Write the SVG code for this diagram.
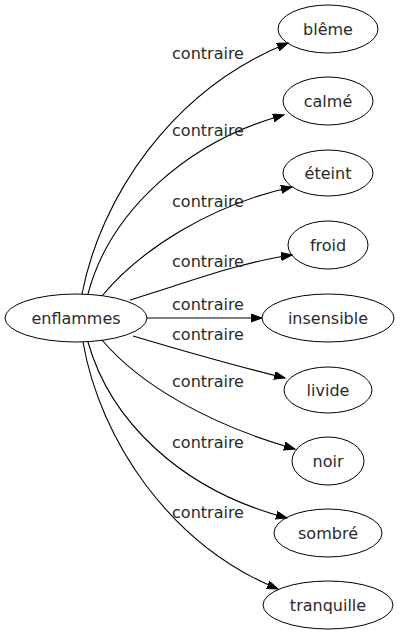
<svg xmlns="http://www.w3.org/2000/svg" width="400" height="635" viewBox="0 0 400 635">
<style>
.n ellipse{fill:none;stroke:#000;stroke-width:1}
text{font-family:"DejaVu Sans",sans-serif;font-size:16px;fill:#2a2a2a;text-anchor:middle}
.e path{fill:none;stroke:#000;stroke-width:1.1;marker-end:url(#a)}
</style>
<defs>
<marker id="a" markerUnits="userSpaceOnUse" markerWidth="14" markerHeight="10" refX="11" refY="4" orient="auto">
<path d="M0,0 L11,4 L0,8 z" fill="#000" stroke="#000"/>
</marker>
</defs>
<rect width="400" height="635" fill="#fff"/>
<g id="edges" class="e">
<path d="M82,294 C100,200 170,90 288,43"/>
<path d="M88,294 C110,210 190,140 284,115"/>
<path d="M102,296 C140,250 210,205 292,187"/>
<path d="M130,300 C180,285 240,262 292,255"/>
<path d="M147,318 L262,318"/>
<path d="M133,336 C180,350 240,367 285,378"/>
<path d="M102,340 C140,385 210,425 295,449"/>
<path d="M88,342 C110,420 180,490 287,518"/>
<path d="M83,342 C100,440 170,545 278,589"/>
</g>
<g id="labels">
<text x="208" y="59">contraire</text>
<text x="208" y="136">contraire</text>
<text x="208" y="207">contraire</text>
<text x="208" y="267">contraire</text>
<text x="208" y="310">contraire</text>
<text x="208" y="340">contraire</text>
<text x="208" y="387">contraire</text>
<text x="208" y="448">contraire</text>
<text x="208" y="518">contraire</text>
</g>
<g id="enflammes" class="n"><ellipse cx="76" cy="318" rx="71" ry="24"/><text x="76" y="324">enflammes</text></g>
<g id="bleme" class="n"><ellipse cx="328" cy="29" rx="50" ry="24"/><text x="328" y="35">blême</text></g>
<g id="calme" class="n"><ellipse cx="328" cy="101" rx="45" ry="24"/><text x="328" y="107">calmé</text></g>
<g id="eteint" class="n"><ellipse cx="328" cy="173" rx="45" ry="23"/><text x="328" y="179">éteint</text></g>
<g id="froid" class="n"><ellipse cx="328" cy="245" rx="40" ry="24"/><text x="328" y="251">froid</text></g>
<g id="insensible" class="n"><ellipse cx="328" cy="318" rx="66" ry="24"/><text x="328" y="324">insensible</text></g>
<g id="livide" class="n"><ellipse cx="328" cy="390" rx="44" ry="23"/><text x="328" y="396">livide</text></g>
<g id="noir" class="n"><ellipse cx="328" cy="461" rx="36" ry="24"/><text x="328" y="467">noir</text></g>
<g id="sombre" class="n"><ellipse cx="328" cy="533" rx="54" ry="24"/><text x="328" y="539">sombré</text></g>
<g id="tranquille" class="n"><ellipse cx="328" cy="605" rx="65" ry="24"/><text x="328" y="611">tranquille</text></g>
</svg>
